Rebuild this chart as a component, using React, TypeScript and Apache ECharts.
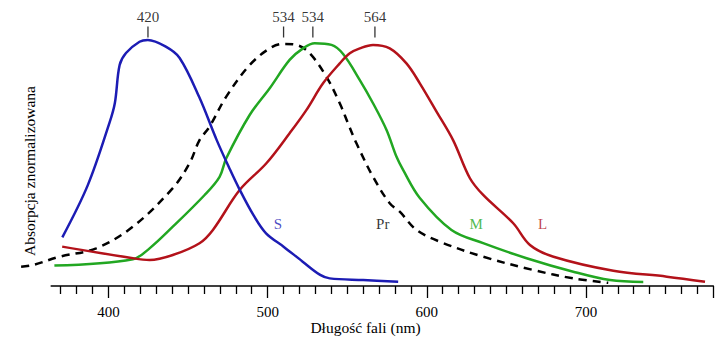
import React, { useEffect, useRef } from "react";
import * as echarts from "echarts";

// S cone (blue)
const sData: [number, number][] = [
  [371, 0.198], [387, 0.41], [400.6, 0.663], [404, 0.744], [407, 0.898], [411, 0.947],
  [419.5, 0.993], [424.7, 1.0], [436, 0.973], [444.7, 0.927], [457, 0.768], [468, 0.593],
  [476, 0.478], [482, 0.397], [491, 0.289], [499, 0.214], [510, 0.16], [522, 0.099],
  [533, 0.045], [539, 0.031], [560, 0.024], [582, 0.017],
];
// M cone (green)
const mData: [number, number][] = [
  [366, 0.083], [415.3, 0.109], [425.8, 0.153], [440.4, 0.241], [460.4, 0.37], [469.8, 0.444],
  [474, 0.519], [488.7, 0.695], [501.3, 0.804], [513.8, 0.919], [522.2, 0.966], [529.6, 0.987],
  [540.1, 0.98], [547.4, 0.943], [557.9, 0.837], [566.2, 0.743], [574.7, 0.634], [580.9, 0.526],
  [585.1, 0.472], [595.6, 0.358], [615.5, 0.228], [635.4, 0.174], [662.7, 0.113], [692, 0.058],
  [715.1, 0.024], [736, 0.016],
];
// L cone (red)
const lData: [number, number][] = [
  [370.9, 0.16], [415.3, 0.113], [425.8, 0.106], [440.4, 0.126], [457.2, 0.174], [465.6, 0.228],
  [482.4, 0.39], [499.2, 0.499], [513.8, 0.621], [524.3, 0.715], [534.8, 0.824], [545.3, 0.905],
  [551.6, 0.946], [557.9, 0.966], [566.2, 0.98], [576.7, 0.966], [587.2, 0.905], [595.6, 0.824],
  [606.1, 0.709], [616.5, 0.593], [627, 0.439], [635.4, 0.37], [654.3, 0.255], [664.8, 0.167],
  [679.6, 0.119], [717.2, 0.062], [750.8, 0.038], [774.8, 0.017],
];
// Rod / Pr (dashed black)
const prData: [number, number][] = [
  [345.1, 0.078], [352.4, 0.085], [369.2, 0.119], [392.3, 0.153], [415.3, 0.241],
  [440.4, 0.398], [450.9, 0.499], [457.2, 0.593], [463.5, 0.648], [474, 0.77], [488.7, 0.898],
  [501.3, 0.966], [509.7, 0.984], [518.1, 0.98], [526.4, 0.946], [536.9, 0.851], [545.3, 0.743],
  [550.5, 0.661], [555.8, 0.58], [566.2, 0.444], [576.7, 0.336], [583, 0.302], [593.5, 0.228],
  [608.2, 0.18], [635.4, 0.119], [666.9, 0.065], [692, 0.031], [714, 0.013],
];

const peakX = [424.8, 510, 528.4, 567.4];
const peakLabels = ["420", "534", "534", "564"];
const peakY = 1.0325;

const curveNames = ["S", "Pr", "M", "L"];
const curveLabelX = [506.4, 572.3, 631, 672.8];
const curveLabelY = [0.254, 0.252, 0.254, 0.252];

const majorTicks = [400, 500, 600, 700, 780];
const tickLabels = [400, 500, 600, 700];
const minorTicks = [
  370, 380, 390, 410, 420, 430, 440, 450, 460, 470, 480, 490, 510, 520, 530, 540, 550, 560,
  570, 580, 590, 610, 620, 630, 640, 650, 660, 670, 680, 690, 710, 720, 730, 740, 750, 760, 770,
];

const BLUE = "#1c1cb4";
const GREEN = "#22a722";
const RED = "#b3121a";
const BLACK = "#000000";
const CURVE_COLORS = [BLUE, BLACK, GREEN, RED];
const FONT = "'Liberation Serif', 'Times New Roman', serif";
const FS = 15;
const NAME_FS = 15.5;

export default function App() {
  const ref = useRef<HTMLDivElement>(null);
  useEffect(() => {
    if (!ref.current) return;
    const chart = echarts.init(ref.current, null, { renderer: "svg" });
    const lineSeries = (name: string, data: [number, number][], color: string, dashed = false) => ({
      type: "line",
      name,
      data,
      xAxisIndex: 0,
      yAxisIndex: 0,
      smooth: 0.35,
      showSymbol: false,
      symbol: "none",
      lineStyle: { color, width: 2.5, type: dashed ? [8, 6] : "solid", cap: "butt" },
      z: 3,
    });
    chart.setOption({
      animation: false,
      backgroundColor: "#ffffff",
      textStyle: { fontFamily: FONT },
      grid: [
        { left: 13.0, right: 9.7, top: 15.4, bottom: 60, outerBoundsMode: "none", containLabel: false },
        { left: 51.2, right: 9.7, top: 15.4, bottom: 60, outerBoundsMode: "none", containLabel: false },
      ],
      xAxis: [
        { type: "value", gridIndex: 0, min: 340, max: 780, show: false },
        {
          type: "value",
          gridIndex: 1,
          position: "bottom",
          offset: 0,
          min: 364,
          max: 780,
          axisLine: { show: true, onZero: false, lineStyle: { color: BLACK, width: 1.5 } },
          axisTick: { show: true, inside: false, customValues: majorTicks, length: 12, lineStyle: { color: BLACK, width: 1.3 } },
          axisLabel: {
            show: true,
            customValues: tickLabels,
            margin: 18,
            color: BLACK,
            fontSize: FS,
            fontFamily: FONT,
          },
          splitLine: { show: false },
          z: 5,
        },
        {
          type: "value",
          gridIndex: 1,
          position: "bottom",
          offset: 0,
          min: 364,
          max: 780,
          axisLine: { show: false, onZero: false },
          axisTick: { show: true, inside: false, customValues: minorTicks, length: 8, lineStyle: { color: BLACK, width: 1.3 } },
          axisLabel: { show: false },
          splitLine: { show: false },
          z: 5,
        },
      ],
      yAxis: [
        { type: "value", gridIndex: 0, min: 0, max: 1.1, show: false },
        { type: "value", gridIndex: 1, min: 0, max: 1.1, show: false },
      ],
      series: [
        lineSeries("Pr", prData, BLACK, true),
        lineSeries("M", mData, GREEN),
        lineSeries("L", lData, RED),
        lineSeries("S", sData, BLUE),
        {
          type: "scatter",
          name: "peaks",
          xAxisIndex: 0,
          yAxisIndex: 0,
          symbol: "rect",
          symbolSize: [1.3, 11],
          itemStyle: { color: BLACK },
          data: peakX.map((x, i) => ({ value: [x, peakY], label: { formatter: peakLabels[i] } })),
          label: {
            show: true,
            position: "top",
            distance: 2,
            color: BLACK,
            fontSize: FS,
            fontFamily: FONT,
            textBorderWidth: 0,
          },
          z: 4,
        },
        {
          type: "scatter",
          name: "curveLabels",
          xAxisIndex: 0,
          yAxisIndex: 0,
          symbolSize: 0,
          data: curveNames.map((n, i) => ({
            value: [curveLabelX[i], curveLabelY[i]],
            label: { formatter: n, color: CURVE_COLORS[i] },
          })),
          label: {
            show: true,
            position: "inside",
            fontSize: FS,
            fontFamily: FONT,
            textBorderWidth: 0,
            textBorderColor: "transparent",
          },
          z: 4,
        },
      ],
      graphic: [
        {
          type: "text",
          x: 29,
          y: 171,
          rotation: Math.PI / 2,
          style: {
            text: "Absorpcja znormalizowana",
            fill: BLACK,
            font: `${NAME_FS}px ${FONT}`,
            textAlign: "center",
            textVerticalAlign: "middle",
          },
        },
        {
          type: "text",
          x: 365.5,
          y: 327,
          style: {
            text: "Długość fali (nm)",
            fill: BLACK,
            font: `${NAME_FS}px ${FONT}`,
            textAlign: "center",
            textVerticalAlign: "middle",
          },
        },
      ],
    });
    return () => chart.dispose();
  }, []);
  return (
    <div
      ref={ref}
      style={{ position: "fixed", left: 0, top: 0, width: 723, height: 346, background: "#fff" }}
    />
  );
}
